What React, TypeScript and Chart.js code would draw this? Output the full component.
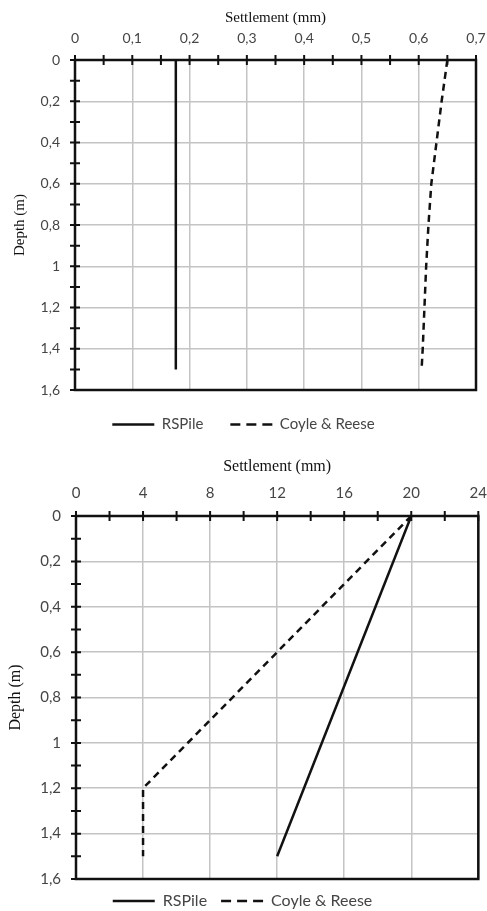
import React, { useEffect, useRef } from "react";
import { Chart, registerables } from "chart.js";

Chart.register(...registerables);

// ---- Data: top chart ----
const rspileDepth1 = [0, 1.5];
const rspileSettlement1 = [0.176, 0.176];
const coyleDepth1 = [0, 0.2, 0.4, 0.6, 0.8, 1.0, 1.2, 1.4, 1.5];
const coyleSettlement1 = [0.65, 0.64, 0.631, 0.622, 0.617, 0.613, 0.61, 0.607, 0.605];

// ---- Data: bottom chart ----
const rspileDepth2 = [0, 1.5];
const rspileSettlement2 = [20, 12];
const coyleDepth2 = [0, 1.2, 1.5];
const coyleSettlement2 = [20, 4, 4];

// ---- Labels / axis ranges ----
const seriesNames = ["RSPile", "Coyle & Reese"];
const xTitle = "Settlement (mm)";
const yTitle = "Depth (m)";
const xRange1 = [0, 0.7];
const xSteps1 = [0.1, 0.05]; // major, minor
const xRange2 = [0, 24];
const xSteps2 = [4, 2];
const yRange = [0, 1.6];
const ySteps = [0.2, 0.1];

const fmt = (v: number) => String(Number(Number(v).toFixed(2))).replace(".", ",");

const frameTicks = {
  id: "frameTicks",
  afterDraw(chart: any, _args: any, opts: any) {
    const { ctx, chartArea: a } = chart;
    const x = chart.scales.x;
    const y = chart.scales.y;
    ctx.save();
    ctx.strokeStyle = "#111";
    ctx.lineWidth = 2.5;
    ctx.strokeRect(a.left, a.top, a.right - a.left, a.bottom - a.top);
    ctx.lineWidth = 2;
    ctx.beginPath();
    const nx = Math.round((x.max - x.min) / opts.xMinor);
    for (let i = 0; i <= nx; i++) {
      const px = x.getPixelForValue(x.min + i * opts.xMinor);
      ctx.moveTo(px, a.top - 5);
      ctx.lineTo(px, a.top + 5);
    }
    const ny = Math.round((y.max - y.min) / opts.yMinor);
    for (let i = 0; i <= ny; i++) {
      const py = y.getPixelForValue(y.min + i * opts.yMinor);
      ctx.moveTo(a.left - 5, py);
      ctx.lineTo(a.left + 5, py);
    }
    ctx.stroke();
    ctx.restore();
  },
};

type P = {
  rsD: number[]; rsS: number[]; cD: number[]; cS: number[];
  xRange: number[]; xSteps: number[];
  pad: { top: number; left: number; right: number; bottom: number };
  xH: number; yW: number; xGap: number; yPad: number;
  titleSize: number; tickSize: number; legendSize: number; legendPad: number;
};

function makeConfig(p: P): any {
  const tickColor = "#454545";
  return {
    type: "scatter",
    data: {
      datasets: [
        {
          label: seriesNames[0],
          data: p.rsD.map((d, i) => ({ x: p.rsS[i], y: d })),
          showLine: true,
          borderColor: "#111",
          borderWidth: 2.5,
          pointRadius: 0,
        },
        {
          label: seriesNames[1],
          data: p.cD.map((d, i) => ({ x: p.cS[i], y: d })),
          showLine: true,
          borderColor: "#111",
          borderWidth: 2.5,
          borderDash: [7, 5],
          pointRadius: 0,
        },
      ],
    },
    options: {
      animation: false,
      responsive: false,
      devicePixelRatio: 1,
      layout: { padding: p.pad },
      scales: {
        x: {
          type: "linear",
          position: "top",
          min: p.xRange[0],
          max: p.xRange[1],
          ticks: {
            stepSize: p.xSteps[0],
            padding: 0,
            color: tickColor,
            font: { family: "Lato", size: p.tickSize },
            callback: (v: any) => fmt(v),
          },
          grid: {
            color: "#c4c4c4",
            lineWidth: 1.5,
            drawTicks: true,
            tickLength: p.xGap,
            tickColor: "rgba(0,0,0,0)",
          },
          border: { display: false },
          title: {
            display: true,
            text: xTitle,
            color: "#111",
            font: { family: "Liberation Serif", size: p.titleSize },
            padding: { top: 0, bottom: 0 },
          },
          afterFit: (s: any) => { s.height = p.xH; },
        },
        y: {
          type: "linear",
          reverse: true,
          min: yRange[0],
          max: yRange[1],
          ticks: {
            stepSize: ySteps[0],
            padding: p.yPad,
            color: tickColor,
            font: { family: "Lato", size: p.tickSize },
            callback: (v: any) => fmt(v),
          },
          grid: { color: "#c4c4c4", lineWidth: 1.5, drawTicks: false },
          border: { display: false },
          title: {
            display: true,
            text: yTitle,
            color: "#111",
            font: { family: "Liberation Serif", size: p.titleSize },
            padding: { top: 0, bottom: 0 },
          },
          afterFit: (s: any) => { s.width = p.yW; },
        },
      },
      plugins: {
        tooltip: { enabled: false },
        frameTicks: { xMinor: p.xSteps[1], yMinor: ySteps[1] },
        legend: {
          position: "bottom",
          labels: {
            usePointStyle: true,
            pointStyleWidth: 42,
            padding: p.legendPad,
            color: "#454545",
            font: { family: "Lato", size: p.legendSize },
            generateLabels: (chart: any) =>
              chart.data.datasets.map((ds: any, i: number) => ({
                text: ds.label,
                datasetIndex: i,
                pointStyle: "line",
                strokeStyle: "#111",
                fillStyle: "#111",
                lineWidth: 2.5,
                lineDash: i === 1 ? [10, 6] : [],
                hidden: false,
                fontColor: "#454545",
              })),
          },
        },
      },
    },
    plugins: [frameTicks],
  };
}

function ChartCanvas({ cfg, top, height }: { cfg: any; top: number; height: number }) {
  const ref = useRef<HTMLCanvasElement | null>(null);
  useEffect(() => {
    if (!ref.current) return;
    const c = new Chart(ref.current, cfg);
    return () => c.destroy();
  }, []);
  return (
    <canvas
      ref={ref}
      width={487}
      height={height}
      style={{ position: "absolute", left: 0, top, width: 487, height }}
    />
  );
}

export default function App() {
  const cfg1 = makeConfig({
    rsD: rspileDepth1, rsS: rspileSettlement1, cD: coyleDepth1, cS: coyleSettlement1,
    xRange: xRange1, xSteps: xSteps1,
    pad: { top: 9, left: 11, right: 11, bottom: 8 },
    xH: 51, yW: 64, xGap: 13, yPad: 15,
    titleSize: 15, tickSize: 14, legendSize: 15, legendPad: 27,
  });
  const cfg2 = makeConfig({
    rsD: rspileDepth2, rsS: rspileSettlement2, cD: coyleDepth2, cS: coyleSettlement2,
    xRange: xRange2, xSteps: xSteps2,
    pad: { top: 12, left: 6, right: 8, bottom: 6 },
    xH: 59, yW: 70, xGap: 14, yPad: 15,
    titleSize: 16, tickSize: 15, legendSize: 16, legendPad: 14,
  });
  return (
    <div style={{ position: "absolute", left: 0, top: 0, width: 487, height: 911, overflow: "hidden", background: "#fff" }}>
      <ChartCanvas cfg={cfg1} top={0} height={450} />
      <ChartCanvas cfg={cfg2} top={445} height={480} />
    </div>
  );
}
